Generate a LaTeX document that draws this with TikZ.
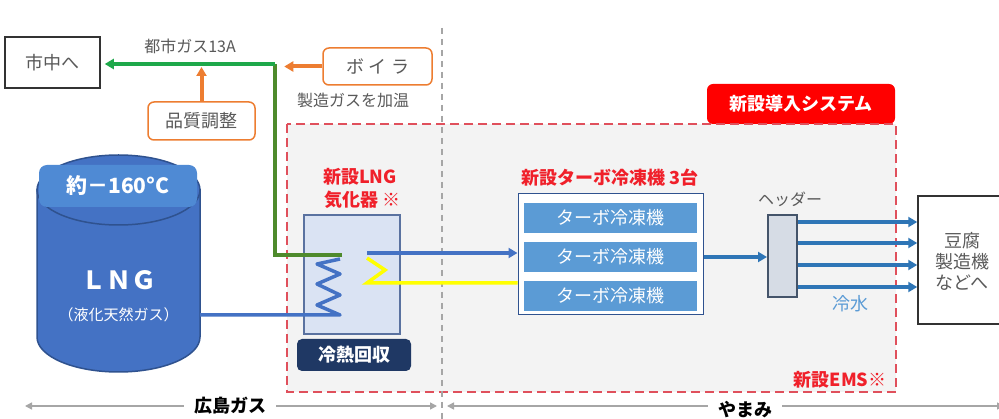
\documentclass[tikz,border=0pt]{standalone}
\usepackage{fontspec}
\setmainfont{Noto Sans CJK JP}
\usetikzlibrary{arrows.meta}
\definecolor{tankblue}{HTML}{4472C4}
\definecolor{tankedge}{HTML}{2F528F}
\definecolor{tanklabel}{HTML}{4F8AD4}
\definecolor{gtop}{HTML}{1EA84A}
\definecolor{gdark}{HTML}{4E8A2C}
\definecolor{orng}{HTML}{ED7D31}
\definecolor{rtxt}{HTML}{F0202A}
\definecolor{rdash}{HTML}{E0505C}
\definecolor{bgray}{HTML}{F3F3F3}
\definecolor{vapfill}{HTML}{DAE3F3}
\definecolor{vapedge}{HTML}{5A72A0}
\definecolor{navy}{HTML}{1F3864}
\definecolor{barblue}{HTML}{5B9BD5}
\definecolor{arrblue}{HTML}{2E75B6}
\definecolor{hdrfill}{HTML}{D6DCE5}
\definecolor{hdredge}{HTML}{44546A}
\definecolor{gtxt}{HTML}{595959}
\definecolor{yel}{HTML}{FFFF00}
\definecolor{sepgray}{HTML}{A6A6A6}
\newcommand\fsz[2]{\fontsize{#1}{#2}\selectfont}
\tikzset{
  plainbox/.style={draw=black!80, line width=1.5pt, fill=white, inner sep=0pt},
  orbox/.style={draw=orng, line width=1.5pt, fill=white, rounded corners=6pt, inner sep=0pt, text=gtxt},
  bar/.style={fill=barblue, draw=white, line width=0.8pt, inner sep=0pt, minimum width=174pt, minimum height=31pt, text=white, font=\fsz{18}{22}},
  tip/.style={-{Triangle[length=9pt,width=10pt]}},
  span/.style={draw=sepgray, line width=1.5pt, {Triangle[length=7pt,width=7pt]}-{Triangle[length=7pt,width=7pt]}},
}
\begin{document}
\begin{tikzpicture}[x=1pt,y=-1pt]
\useasboundingbox (0,0) rectangle (999,419);
\fill[white] (0,0) rectangle (999,419);

% system area
\fill[bgray] (287,124) rectangle (896,392);
\node[fill=red, rounded corners=6pt, minimum width=188pt, minimum height=40pt, inner sep=0pt, text=white, font=\fsz{18}{22}\bfseries] (sys) at (801,104) {新設導入システム};
\draw[rdash, line width=1.5pt, dash pattern=on 9pt off 5pt] (287,124) rectangle (896,392);
\node[text=rtxt, font=\fsz{18}{22}\bfseries, anchor=east] (ems) at (890,380) {新設EMS※};

% separator
\draw[sepgray, line width=2pt, dash pattern=on 6pt off 5pt] (442,28) -- (442,419);

% top boxes
\node[plainbox, minimum width=95pt, minimum height=51pt, text=gtxt, font=\fsz{18}{22}] (city) at (52.5,62.5) {市中へ};
\node[orbox, minimum width=107pt, minimum height=38pt, font=\fsz{18}{22}] (qual) at (201.5,121) {品質調整};
\node[orbox, minimum width=109pt, minimum height=37pt, font=\fsz{18}{22}] (boil) at (377.5,66.5) {\addfontfeature{LetterSpace=25}ボイラ};
\node[text=gtxt, font=\fsz{16}{20}] (gaslbl) at (190,46) {都市ガス13A};
\node[text=gtxt, font=\fsz{16}{20}] (warm) at (353,100) {製造ガスを加温};

% LNG tank
\filldraw[fill=tankblue, draw=tankedge, line width=1.5pt] (37,190) -- (37,337) arc[start angle=180, end angle=0, x radius=81.5, y radius=35] -- (200,190) -- cycle;
\filldraw[fill=tankblue, draw=tankedge, line width=1.5pt] (118.5,190) ellipse [x radius=81.5, y radius=35];
\node[fill=tanklabel, rounded corners=8pt, minimum width=158pt, minimum height=42pt, inner sep=0pt, text=white, font=\fsz{21}{25}\bfseries] (temp) at (118,186) {約－160°C};
\node[text=white, font=\fsz{25}{30}\bfseries] (lng) at (118.5,280) {ＬＮＧ};
\node[text=white, font=\fsz{15}{18}] (lngsub) at (118.5,315) {（液化天然ガス）};
\coordinate (tankout) at (200,315);

% vaporizer
\node[fill=vapfill, draw=vapedge, line width=1.2pt, minimum width=96pt, minimum height=119pt, inner sep=0pt] (vap) at (352,274.5) {};
\node[fill=navy, rounded corners=5pt, minimum width=114pt, minimum height=32pt, inner sep=0pt, text=white, font=\fsz{18}{22}\bfseries] (cold) at (354,355) {冷熱回収};
\node[text=rtxt, font=\fsz{18}{23}\bfseries, align=center] (vaplbl) at (360,188) {新設LNG\\\ 気化器 ※};
\coordinate (coilin) at (340,315);
\coordinate (coiltop) at (342,255);
\coordinate (vapout) at (367,253);
\coordinate (yin) at (367,258);

% green gas line
\draw[gdark, line width=4pt] (coiltop) -- (275,255) -- (275,64);
\draw[gtop, line width=4pt, tip, shorten >=4pt] (275,64) -- (city.east |- 0,64);
\draw[orng, line width=4pt, tip] (qual.north) -- (qual.north |- 0,67);
\draw[orng, line width=4pt, tip] (boil.west) -- ++(-38,0);

% LNG pipe and coil
\draw[tankblue, line width=3.5pt, line join=round] (tankout) -- (coilin) -- (317,305) -- (340,295) -- (317,284) -- (340,274) -- (317,264) -- (340,259);

% turbo chillers
\node[draw=tankedge, fill=white, line width=1pt, minimum width=185pt, minimum height=121pt, inner sep=0pt] (turbo) at (610.5,254.5) {};
\node[bar] (bar1) at (610,217.5) {ターボ冷凍機};
\node[bar] (bar2) at (610,256.5) {ターボ冷凍機};
\node[bar] (bar3) at (610,295.5) {ターボ冷凍機};
\node[text=rtxt, font=\fsz{18}{22}\bfseries] (turbolbl) at (610,178) {新設ターボ冷凍機 3台};

\draw[tankblue, line width=3.5pt, tip] (vapout) -- (turbo.west |- vapout);
\draw[yel, line width=3.5pt, line join=miter] (yin) -- (385,270) -- (367,283) -- (turbo.west |- 0,283);

% header
\node[fill=hdrfill, draw=hdredge, line width=2pt, minimum width=29pt, minimum height=82pt, inner sep=0pt] (hdr) at (782.5,256) {};
\node[text=gtxt, font=\fsz{16}{20}] (hdrlbl) at (790,199) {ヘッダー};
\draw[arrblue, line width=3.5pt, tip] (turbo.east |- 0,257) -- (hdr.west |- 0,257);

% tofu
\node[plainbox, minimum width=92pt, minimum height=128pt] (tofu) at (964,260) {};
\node[text=gtxt, font=\fsz{18}{21}, align=center] (tofutxt) at (962,261) {豆腐\\製造機\\などへ};
\foreach \yy in {222,243,265,287}{
  \draw[arrblue, line width=3.5pt, tip] (hdr.east |- 0,\yy) -- (tofu.west |- 0,\yy);
}
\node[text=barblue, font=\fsz{18}{22}] (water) at (850,304) {冷水};

% bottom spans
\coordinate (hl) at (25,406);
\coordinate (hr) at (437,406);
\draw[span] (hl) -- (hr);
\node[fill=white, text=black, font=\fsz{18}{22}\bfseries, inner xsep=10pt, inner ysep=1pt] (hiro) at (230,406) {広島ガス};
\coordinate (yl) at (447,406);
\coordinate (yr) at (1004,406);
\draw[span] (yl) -- (yr);
\node[fill=white, text=black, font=\fsz{18}{22}\bfseries, inner xsep=10pt, inner ysep=1pt] (yama) at (745,410) {やまみ};
\end{tikzpicture}
\end{document}
